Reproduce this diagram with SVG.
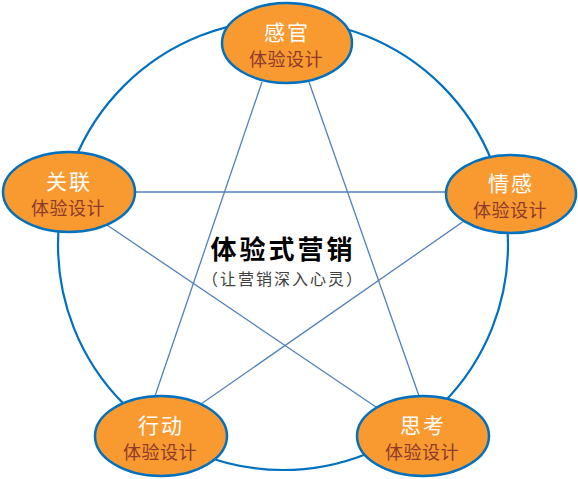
<svg xmlns="http://www.w3.org/2000/svg" width="578" height="479" viewBox="0 0 578 479">
<style>
.ring{fill:none;stroke:#0070C0;stroke-width:2.2}
.ln{stroke:#4F81BD;stroke-width:1.3;fill:none}
.nd{fill:#F89A30;stroke:#0070C0;stroke-width:2.5}
.t1{font-family:"Noto Sans CJK SC","Liberation Sans",sans-serif;font-size:21px;fill:#FFFFFF;text-anchor:middle;letter-spacing:2px}
.t2{font-family:"Noto Sans CJK SC","Liberation Sans",sans-serif;font-size:18px;fill:#8E3A2C;text-anchor:middle;letter-spacing:0.5px}
</style>
<rect width="578" height="479" fill="#FFFFFF"/>
<circle class="ring" cx="283" cy="245" r="225"/>
<g id="connectors">
<line class="ln" x1="262" y1="82" x2="155" y2="396"/>
<line class="ln" x1="309" y1="82" x2="419" y2="396"/>
<line class="ln" x1="133" y1="192" x2="446" y2="192"/>
<line class="ln" x1="107" y1="225" x2="376" y2="407"/>
<line class="ln" x1="464" y1="221" x2="201" y2="404"/>
</g>
<g id="center">
<text x="283" y="259" font-family="'Noto Sans CJK SC','Liberation Sans',sans-serif" font-size="26" font-weight="bold" fill="#000" text-anchor="middle" letter-spacing="3">体验式营销</text>
<text x="283" y="285" font-family="'Noto Sans CJK SC','Liberation Sans',sans-serif" font-size="16" fill="#404040" text-anchor="middle" letter-spacing="2">（让营销深入心灵）</text>
</g>
<g id="n-ganguan">
<ellipse class="nd" cx="287" cy="43" rx="65" ry="40"/>
<text class="t1" x="287" y="40">感官</text>
<text class="t2" x="286" y="66">体验设计</text>
</g>
<g id="n-qinggan">
<ellipse class="nd" cx="511" cy="194" rx="65" ry="39"/>
<text class="t1" x="511" y="191">情感</text>
<text class="t2" x="510" y="217">体验设计</text>
</g>
<g id="n-guanlian">
<ellipse class="nd" cx="69" cy="192" rx="66" ry="40"/>
<text class="t1" x="69" y="189">关联</text>
<text class="t2" x="68" y="215">体验设计</text>
</g>
<g id="n-xingdong">
<ellipse class="nd" cx="161" cy="436" rx="66" ry="40"/>
<text class="t1" x="161" y="433">行动</text>
<text class="t2" x="160" y="459">体验设计</text>
</g>
<g id="n-sikao">
<ellipse class="nd" cx="423" cy="436" rx="66" ry="40"/>
<text class="t1" x="423" y="433">思考</text>
<text class="t2" x="422" y="459">体验设计</text>
</g>
</svg>
